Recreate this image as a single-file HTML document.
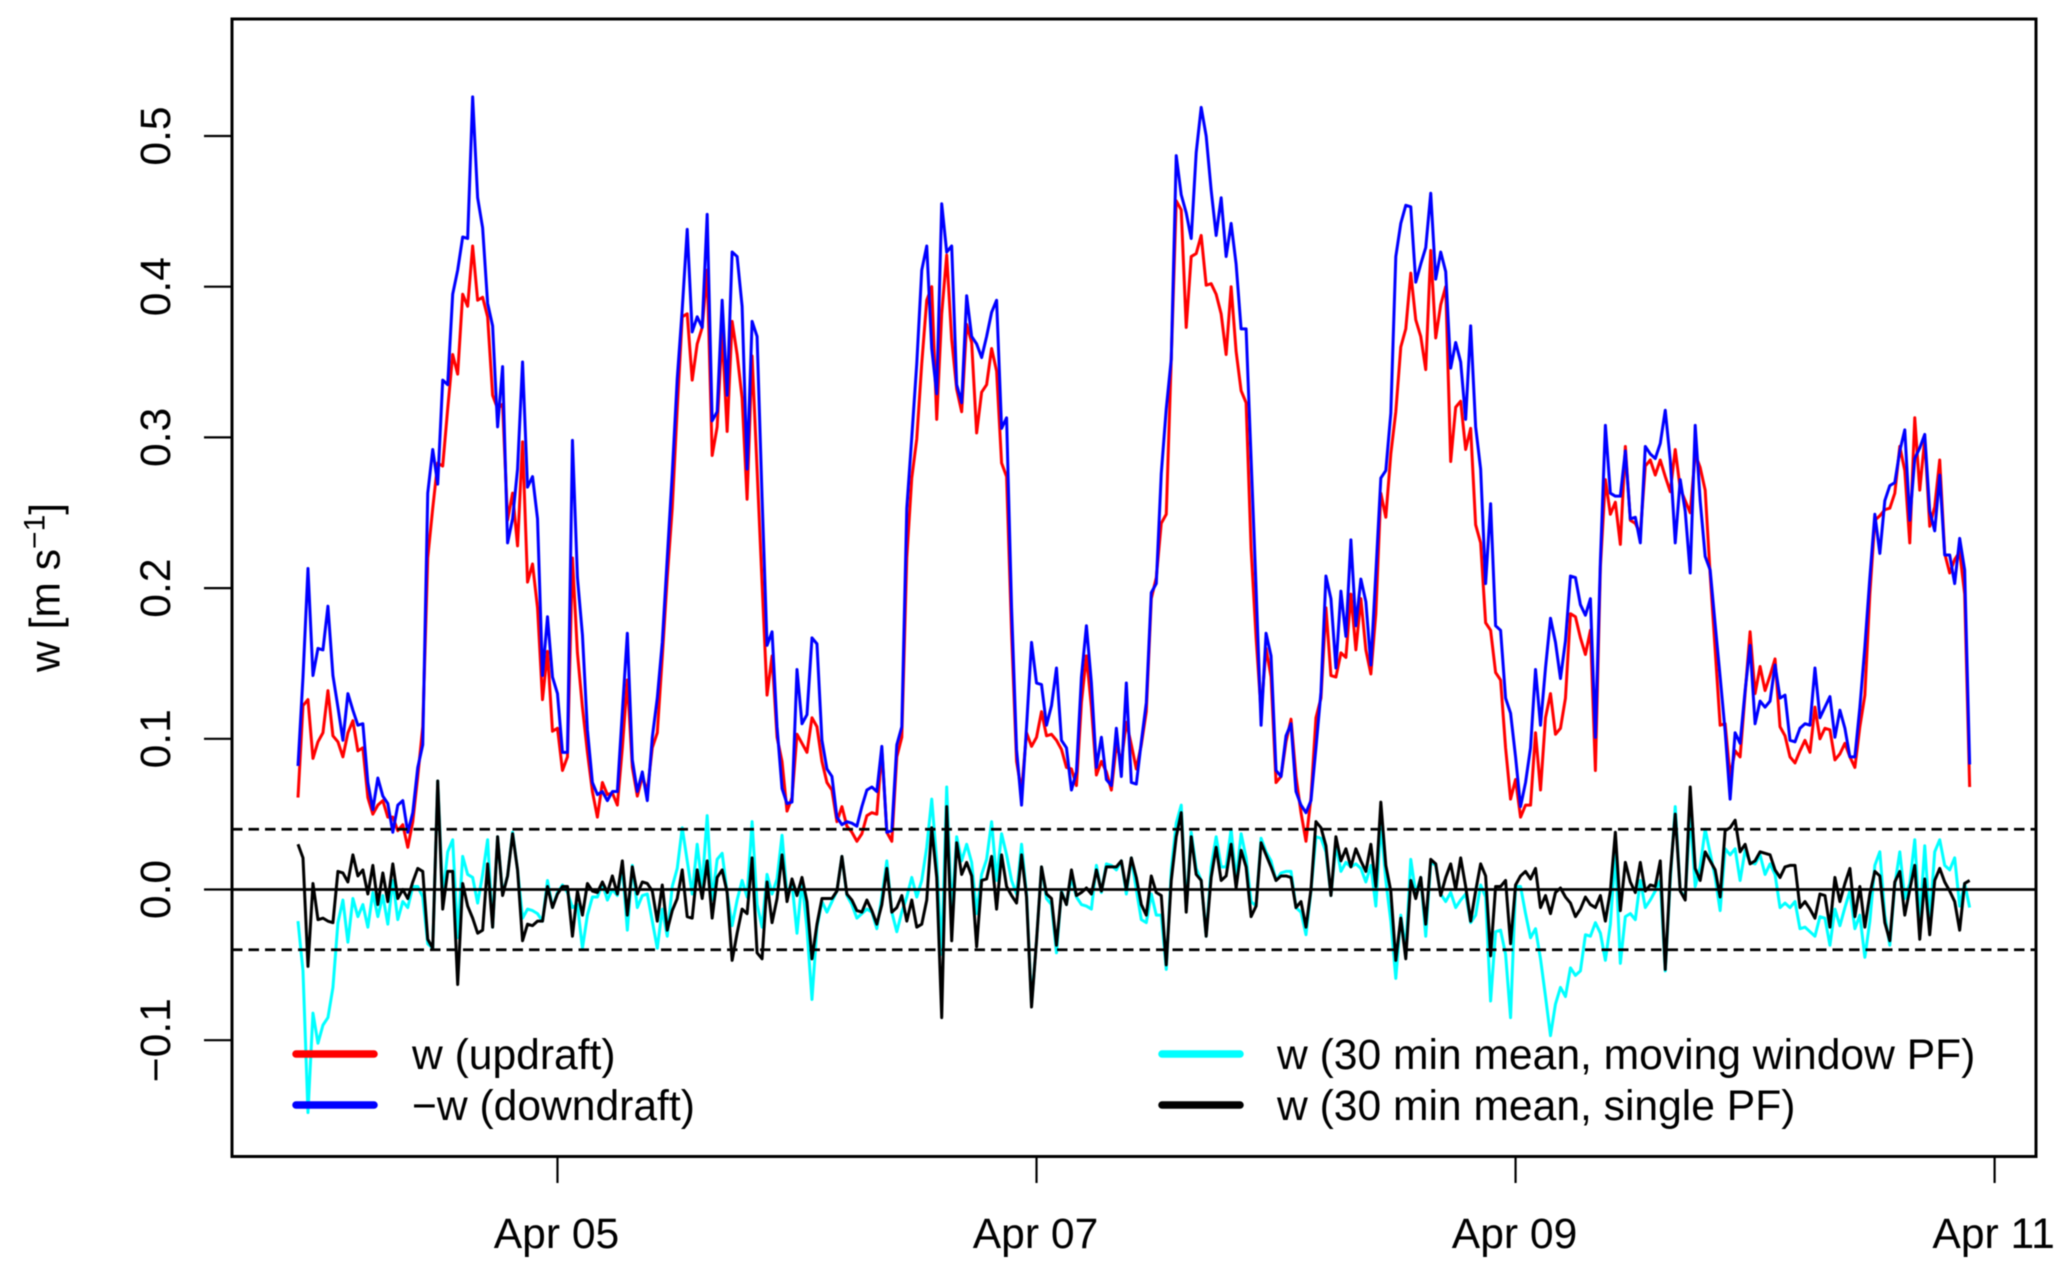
<!DOCTYPE html>
<html lang="en">
<head>
<meta charset="utf-8">
<title>Vertical velocity time series</title>
<style>
html,body{margin:0;padding:0;background:#fff;width:2067px;height:1275px;overflow:hidden}
svg{display:block;filter:blur(0.45px)}
text{font-family:"Liberation Sans",Arial,Helvetica,sans-serif;fill:#000;font-size:42.6px}
</style>
</head>
<body>
<svg id="chart" xmlns="http://www.w3.org/2000/svg" width="2067" height="1275" viewBox="0 0 2067 1275">
  <rect x="0" y="0" width="2067" height="1275" fill="#fff"/>
  <g id="series-layer"></g>
  <g id="ref-layer"></g>
  <g id="axis-layer"></g>
  <rect x="232" y="19" width="1804" height="1137.5" fill="none" stroke="#000" stroke-width="3"/>
  <text transform="translate(59.5,672) rotate(-90)">w [m s<tspan dy="-15" font-size="30">−1</tspan><tspan dy="15">]</tspan></text>
  <g>
    <line x1="296" y1="1054" x2="374" y2="1054" stroke="#f00" stroke-width="7.5" stroke-linecap="round"/>
    <text x="412" y="1069">w (updraft)</text>
    <line x1="296" y1="1105" x2="374" y2="1105" stroke="#00f" stroke-width="7.5" stroke-linecap="round"/>
    <text x="412" y="1120">−w (downdraft)</text>
    <line x1="1162" y1="1054" x2="1240" y2="1054" stroke="#0ff" stroke-width="7.5" stroke-linecap="round"/>
    <text x="1277" y="1069">w (30 min mean, moving window PF)</text>
    <line x1="1162" y1="1105" x2="1240" y2="1105" stroke="#000" stroke-width="7.5" stroke-linecap="round"/>
    <text x="1277" y="1120">w (30 min mean, single PF)</text>
  </g>
</svg>
<script>
const updraft = [
.061,.122,.126,.087,.098,.104,.132,.102,.098,.088,
.104,.112,.092,.094,.061,.050,.056,.059,.048,.048,
.039,.043,.028,.045,.075,.108,.220,.253,.283,.281,
.319,.355,.342,.395,.387,.427,.391,.393,.380,.328,
.319,.322,.245,.263,.228,.297,.204,.216,.187,.126,
.158,.105,.107,.079,.088,.220,.157,.121,.091,.065,
.048,.071,.063,.064,.056,.094,.139,.081,.062,.075,
.065,.094,.104,.154,.207,.253,.319,.380,.382,.338,
.362,.373,.411,.288,.307,.370,.304,.377,.355,.326,
.259,.354,.279,.203,.129,.155,.101,.085,.052,.061,
.103,.097,.091,.114,.108,.085,.071,.066,.045,.055,
.042,.038,.032,.037,.049,.051,.050,.093,.038,.032,
.088,.101,.220,.273,.299,.349,.391,.400,.312,.382,
.421,.365,.332,.317,.375,.363,.303,.330,.335,.359,
.344,.283,.274,.170,.085,.065,.104,.095,.101,.118,
.102,.103,.099,.093,.081,.080,.069,.124,.155,.121,
.076,.085,.078,.066,.096,.085,.111,.096,.080,.096,
.118,.193,.207,.243,.249,.352,.457,.451,.373,.420,
.422,.434,.401,.402,.395,.382,.355,.400,.357,.331,
.323,.226,.167,.118,.160,.141,.071,.075,.098,.113,
.075,.051,.032,.061,.114,.127,.187,.142,.141,.157,
.154,.196,.159,.193,.159,.143,.183,.263,.247,.289,
.317,.360,.372,.409,.378,.367,.345,.424,.366,.388,
.400,.284,.320,.324,.292,.306,.242,.230,.177,.172,
.144,.139,.094,.060,.073,.048,.056,.056,.104,.066,
.114,.130,.103,.107,.127,.183,.181,.167,.156,.172,
.079,.214,.272,.249,.257,.229,.294,.245,.243,.236,
.281,.285,.275,.285,.274,.264,.292,.266,.258,.250,
.289,.280,.265,.209,.159,.109,.110,.075,.092,.088,
.130,.171,.130,.148,.132,.142,.153,.108,.102,.088,
.084,.092,.099,.091,.121,.100,.107,.106,.086,.090,
.097,.088,.081,.108,.129,.196,.245,.248,.252,.253,
.263,.294,.278,.230,.313,.265,.299,.241,.254,.285,
.223,.210,.219,.224,.196,.068];
const downdraft = [
.082,.141,.213,.142,.160,.159,.188,.142,.121,.099,
.130,.119,.109,.110,.071,.053,.074,.062,.057,.038,
.056,.059,.038,.051,.081,.096,.263,.292,.269,.338,
.335,.395,.411,.433,.432,.526,.459,.439,.389,.374,
.307,.347,.230,.246,.279,.350,.267,.274,.246,.142,
.181,.141,.130,.091,.091,.298,.207,.169,.106,.071,
.063,.065,.059,.065,.065,.118,.170,.086,.065,.078,
.059,.101,.127,.164,.220,.276,.339,.385,.438,.370,
.380,.373,.448,.311,.317,.391,.328,.423,.420,.387,
.279,.377,.367,.260,.162,.171,.108,.067,.057,.058,
.146,.110,.116,.167,.163,.099,.080,.075,.048,.043,
.045,.044,.042,.055,.066,.068,.065,.095,.038,.039,
.096,.108,.253,.300,.349,.411,.427,.359,.329,.455,
.423,.427,.335,.323,.394,.367,.362,.353,.367,.383,
.391,.306,.313,.187,.093,.056,.108,.164,.137,.136,
.109,.122,.147,.099,.094,.066,.078,.141,.175,.137,
.081,.101,.073,.069,.107,.075,.137,.071,.070,.098,
.124,.197,.203,.276,.319,.352,.487,.461,.449,.432,
.489,.519,.500,.464,.434,.459,.420,.442,.415,.372,
.372,.286,.200,.109,.170,.155,.079,.075,.102,.110,
.065,.056,.051,.059,.094,.131,.208,.193,.147,.198,
.168,.232,.175,.206,.191,.149,.210,.273,.278,.316,
.420,.442,.454,.453,.403,.415,.426,.462,.405,.423,
.410,.346,.363,.350,.312,.374,.307,.279,.203,.256,
.175,.172,.127,.117,.088,.055,.071,.094,.146,.109,
.147,.180,.164,.140,.165,.208,.207,.189,.182,.193,
.101,.218,.308,.263,.261,.261,.291,.246,.247,.230,
.294,.289,.286,.296,.318,.285,.230,.272,.251,.210,
.308,.258,.221,.212,.176,.141,.105,.060,.104,.097,
.132,.162,.110,.125,.121,.125,.149,.127,.129,.099,
.098,.107,.110,.109,.147,.114,.121,.128,.101,.119,
.107,.088,.088,.121,.161,.207,.249,.223,.258,.268,
.270,.291,.305,.245,.286,.293,.302,.251,.238,.275,
.222,.222,.203,.233,.212,.083];
const movingWindow = [
-.021,-.054,-.148,-.082,-.102,-.090,-.085,-.065,-.022,-.007,
-.035,-.006,-.018,-.010,-.025,-.002,-.018,-.004,-.023,.006,
-.020,-.008,-.012,.002,.002,-.005,-.036,-.039,.072,-.005,
.025,.033,-.032,.022,.010,.008,-.009,.010,.033,-.025,
.035,-.003,.009,.038,.013,-.019,-.013,-.014,-.016,-.021,
.006,-.012,-.002,.003,-.002,-.012,-.010,-.039,-.017,-.005,
-.005,.004,-.007,0,-.004,.015,-.027,.016,-.012,-.004,
-.003,-.021,-.039,-.013,-.031,.002,.014,.041,.019,-.003,
.030,.002,.049,-.007,.020,.024,-.002,-.024,-.007,.006,
-.005,.045,-.010,-.025,.010,-.003,.007,.036,-.003,.004,
-.029,.006,-.026,-.073,-.025,-.008,-.015,-.008,-.001,.022,
-.004,-.010,-.019,-.016,-.013,-.015,-.026,-.005,.019,-.015,
-.028,-.015,-.005,.008,-.005,.006,.028,.060,.019,-.043,
.068,-.016,.035,.019,.030,.018,-.016,.010,.020,.045,
.006,.037,.023,.006,-.003,.030,-.003,-.076,-.034,.015,
-.006,-.010,-.042,-.001,-.010,.008,-.005,-.010,-.011,-.013,
.016,-.002,.017,.016,.013,.019,-.003,.021,0,-.020,
-.022,-.003,-.017,-.017,-.053,.013,.044,.056,-.013,.038,
.014,.006,-.031,.015,.035,.015,.015,.040,.006,.037,
.021,-.008,-.011,.034,.025,.019,.006,.011,.012,.012,
-.012,-.015,-.030,-.001,.035,.034,.025,-.004,.030,.012,
.018,.015,.017,.014,.005,.016,-.011,.044,.006,-.021,
-.059,-.017,-.040,.020,-.003,.008,-.031,.018,.016,-.003,
-.008,-.002,-.012,-.007,-.003,-.022,-.017,.003,-.005,-.074,
-.028,-.027,-.043,-.085,.002,.002,-.016,-.032,-.026,-.046,
-.071,-.097,-.076,-.065,-.071,-.052,-.057,-.054,-.030,-.031,
-.022,-.029,-.047,-.023,.025,-.049,-.018,-.016,-.020,.006,
-.012,-.007,-.001,.006,-.054,.006,.055,-.001,-.005,.050,
.002,.015,.040,.024,.008,-.014,.027,.023,.027,.006,
.026,.018,.017,.023,.010,.017,.010,-.012,-.009,-.012,
-.008,-.026,-.025,-.028,-.031,-.018,-.019,-.037,-.013,-.024,
-.012,-.001,-.026,-.017,-.045,-.021,.016,.025,-.017,-.037,
.003,.025,-.006,.004,.033,-.022,.029,-.021,.025,.033,
.016,.013,.021,-.011,.004,-.012];
const singlePF = [
.030,.021,-.051,.004,-.020,-.019,-.021,-.022,.012,.011,
.005,.023,.009,.013,-.003,.016,-.010,.011,-.008,.017,
-.006,0,-.006,.005,.014,.012,-.033,-.039,.072,-.013,
.012,.012,-.063,.004,-.011,-.019,-.029,-.027,.017,-.025,
.035,-.004,.009,.037,.013,-.034,-.023,-.024,-.021,-.021,
.002,-.012,-.003,.002,.002,-.031,-.001,-.017,.004,-.001,
-.002,.005,-.002,.009,-.003,.019,-.017,.015,-.003,.005,
.004,-.001,-.021,.003,-.027,-.014,-.006,.013,-.018,-.019,
.013,-.006,.019,-.019,.008,.013,-.002,-.047,-.029,-.013,
-.016,.021,-.042,-.046,.005,-.022,-.006,.023,-.008,.007,
-.004,.008,-.008,-.046,-.023,-.006,-.006,-.006,-.001,.022,
-.003,-.007,-.014,-.015,-.007,-.014,-.023,-.010,.014,-.015,
-.012,-.004,-.021,-.007,-.025,-.023,-.007,.041,.008,-.085,
.055,-.034,.031,.010,.018,.009,-.038,.006,.007,.022,
-.013,.023,.002,-.004,-.009,.023,-.005,-.078,-.034,.015,
-.003,-.006,-.037,-.002,-.010,.013,-.004,-.002,.001,-.003,
.013,-.001,.015,.015,.015,.019,0,.021,.008,-.010,
-.017,.009,-.002,-.004,-.050,.006,.035,.051,-.015,.035,
.010,.006,-.031,.008,.028,.006,.009,.030,.001,.026,
.015,-.018,-.011,.031,.023,.015,.006,.009,.009,.008,
-.012,-.008,-.025,0,.045,.041,.029,-.004,.035,.019,
.027,.015,.027,.019,.012,.030,.002,.058,.016,-.001,
-.047,-.019,-.046,.006,-.006,.008,-.023,.020,.017,-.004,
.008,.017,0,.021,.002,-.021,-.001,.017,.009,-.044,
.002,.002,.006,-.036,.003,.009,.012,.007,.014,-.012,
-.004,-.016,-.002,.001,-.005,-.009,-.018,-.013,-.005,-.010,
-.012,-.004,-.021,-.001,.038,-.014,.018,.005,-.002,.018,
-.001,.003,.002,.019,-.053,.010,.050,-.001,-.007,.068,
.014,.006,.025,.019,.013,-.005,.039,.041,.046,.025,
.030,.017,.019,.025,.024,.023,.013,.008,.015,.016,
.016,-.012,-.008,-.013,-.019,-.003,-.004,-.025,.008,-.008,
.004,.014,-.018,.002,-.025,-.003,.012,.009,-.022,-.034,
.005,.012,-.017,0,.016,-.033,.007,-.030,.006,.014,
.005,-.001,-.008,-.027,.004,.006];
const yTickValues = [-0.1, 0, 0.1, 0.2, 0.3, 0.4, 0.5];
const yTickLabels = ['−0.1', '0.0', '0.1', '0.2', '0.3', '0.4', '0.5'];
const xTickLabels = ['Apr 05', 'Apr 07', 'Apr 09', 'Apr 11'];
const xTickHalfHours = [52, 148, 244, 340];
const refLevels = [0.04, -0.04];

const NS = 'http://www.w3.org/2000/svg';
function xScale(i) { return 298 + 4.99 * i; }
function yScale(v) { return 889.5 - 1507 * v; }
function linePath(values) {
  return values.map(function (v, i) {
    return (i ? 'L' : 'M') + xScale(i).toFixed(2) + ' ' + yScale(v).toFixed(2);
  }).join('');
}
function svgEl(tag, attrs, parent) {
  const el = document.createElementNS(NS, tag);
  Object.keys(attrs).forEach(function (k) { el.setAttribute(k, attrs[k]); });
  parent.appendChild(el);
  return el;
}
const seriesLayer = document.getElementById('series-layer');
const refLayer = document.getElementById('ref-layer');
const axisLayer = document.getElementById('axis-layer');
const lineStyle = { fill: 'none', 'stroke-width': 3, 'stroke-linejoin': 'round' };

const redLine = svgEl('path', Object.assign({ d: linePath(updraft), stroke: '#f00' }, lineStyle), seriesLayer);


const blueLine = svgEl('path', Object.assign({ d: linePath(downdraft), stroke: '#00f' }, lineStyle), seriesLayer);


const cyanLine = svgEl('path', Object.assign({ d: linePath(movingWindow), stroke: '#0ff' }, lineStyle), seriesLayer);


const blackLine = svgEl('path', Object.assign({ d: linePath(singlePF), stroke: '#000' }, lineStyle), seriesLayer);



const zeroLine = svgEl('line', { x1: 232, x2: 2036, y1: yScale(0), y2: yScale(0), stroke: '#000', 'stroke-width': 2.8 }, refLayer);


refLevels.forEach(function (v) {
  const dash = svgEl('line', { x1: 232, x2: 2036, y1: yScale(v), y2: yScale(v), stroke: '#000', 'stroke-width': 2.8, 'stroke-dasharray': '10.5 6' }, refLayer);
  
  
});

yTickValues.forEach(function (v, k) {
  const tick = svgEl('line', { x1: 204, x2: 232, y1: yScale(v), y2: yScale(v), stroke: '#000', 'stroke-width': 2.2 }, axisLayer);
  
  
  const label = svgEl('text', { transform: 'translate(170,' + yScale(v) + ') rotate(-90)', 'text-anchor': 'middle' }, axisLayer);
  label.textContent = yTickLabels[k];
  
  
});
xTickHalfHours.forEach(function (h, k) {
  const tick = svgEl('line', { x1: xScale(h), x2: xScale(h), y1: 1156, y2: 1183, stroke: '#000', 'stroke-width': 2.2 }, axisLayer);
  
  
  const label = svgEl('text', { x: xScale(h) - 1, y: 1248, 'text-anchor': 'middle' }, axisLayer);
  label.textContent = xTickLabels[k];
  
  
});
</script>
</body>
</html>
